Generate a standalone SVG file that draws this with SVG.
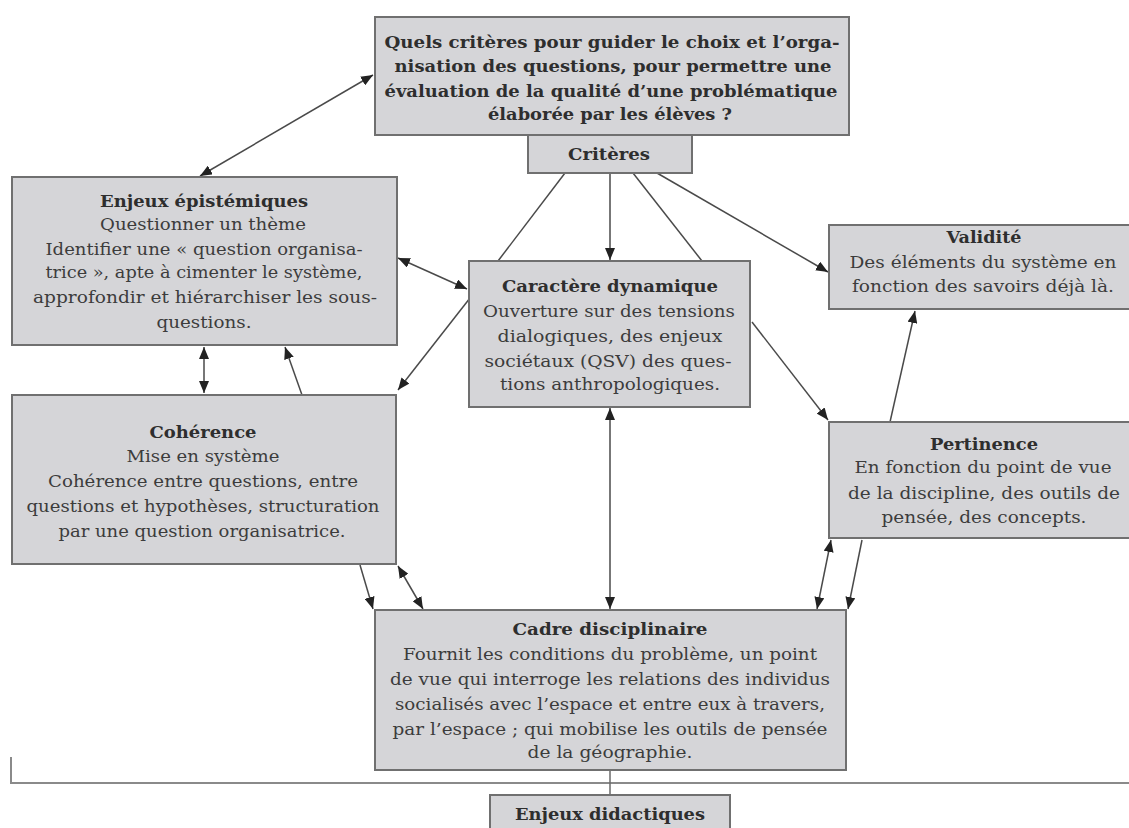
<svg xmlns="http://www.w3.org/2000/svg" width="1129" height="828" viewBox="0 0 1129 828">
<style>
.box{fill:#d5d5d8;stroke:#707070;stroke-width:2}
.t{font-family:"DejaVu Serif","Liberation Serif",serif;font-size:16.5px;fill:#3c3c3c;text-anchor:middle}
.b{font-weight:bold;fill:#2e2e2e}
.c{stroke:#4a4a4a;stroke-width:1.5;fill:none}
.a{marker-end:url(#ah)}
.d{marker-start:url(#ah);marker-end:url(#ah)}
</style>
<defs>
<marker id="ah" viewBox="0 0 12 10" refX="12" refY="5" markerWidth="12" markerHeight="10" markerUnits="userSpaceOnUse" orient="auto-start-reverse">
<path d="M0,0 L12,5 L0,10 Z" fill="#222"/>
</marker>
</defs>
<rect width="1129" height="828" fill="#ffffff"/>
<g id="connectors">
<line class="c d" x1="200" y1="176" x2="373" y2="75"/>
<line class="c" x1="565" y1="173" x2="498" y2="261"/>
<line class="c a" x1="610" y1="173" x2="610" y2="260"/>
<line class="c" x1="633" y1="173" x2="702" y2="261"/>
<line class="c a" x1="657" y1="173" x2="828" y2="272"/>
<line class="c d" x1="398" y1="258" x2="467" y2="289"/>
<line class="c a" x1="470" y1="298" x2="398" y2="390"/>
<line class="c d" x1="204" y1="347" x2="204" y2="393"/>
<line class="c a" x1="302" y1="395" x2="285" y2="347"/>
<line class="c d" x1="610" y1="408" x2="610" y2="609"/>
<line class="c a" x1="752" y1="322" x2="828" y2="420"/>
<line class="c a" x1="890" y1="422" x2="915" y2="311"/>
<line class="c a" x1="360" y1="565" x2="373" y2="609"/>
<line class="c d" x1="398" y1="566" x2="423" y2="609"/>
<line class="c d" x1="831" y1="540" x2="817" y2="609"/>
<line class="c a" x1="862" y1="540" x2="848" y2="609"/>
<polyline points="11,757 11,783 1129,783" fill="none" stroke="#8a8a8a" stroke-width="2"/>
<line x1="610" y1="770" x2="610" y2="795" stroke="#6a6a6a" stroke-width="1.5"/>
</g>
<g id="question">
<rect class="box" x="375" y="17" width="474" height="118"/>
<text class="t b" x="612" y="48" textLength="455" lengthAdjust="spacingAndGlyphs">Quels critères pour guider le choix et l’orga-</text>
<text class="t b" x="613" y="72" textLength="437" lengthAdjust="spacingAndGlyphs">nisation des questions, pour permettre une</text>
<text class="t b" x="611" y="97" textLength="453" lengthAdjust="spacingAndGlyphs">évaluation de la qualité d’une problématique</text>
<text class="t b" x="610" y="120" textLength="244" lengthAdjust="spacingAndGlyphs">élaborée par les élèves ?</text>
</g>
<g id="criteres">
<rect class="box" x="528" y="135" width="164" height="38"/>
<text class="t b" x="609" y="160" textLength="82" lengthAdjust="spacingAndGlyphs">Critères</text>
</g>
<g id="enjeux-epistemiques">
<rect class="box" x="12" y="177" width="385" height="168"/>
<text class="t b" x="204" y="207" textLength="208" lengthAdjust="spacingAndGlyphs">Enjeux épistémiques</text>
<text class="t" x="203" y="230" textLength="206" lengthAdjust="spacingAndGlyphs">Questionner un thème</text>
<text class="t" x="204" y="255" textLength="317" lengthAdjust="spacingAndGlyphs">Identifier une « question organisa-</text>
<text class="t" x="204" y="278" textLength="317" lengthAdjust="spacingAndGlyphs">trice », apte à cimenter le système,</text>
<text class="t" x="205" y="303" textLength="344" lengthAdjust="spacingAndGlyphs">approfondir et hiérarchiser les sous-</text>
<text class="t" x="204" y="328" textLength="95" lengthAdjust="spacingAndGlyphs">questions.</text>
</g>
<g id="caractere-dynamique">
<rect class="box" x="469" y="261" width="281" height="146"/>
<text class="t b" x="610" y="292" textLength="216" lengthAdjust="spacingAndGlyphs">Caractère dynamique</text>
<text class="t" x="609" y="317" textLength="252" lengthAdjust="spacingAndGlyphs">Ouverture sur des tensions</text>
<text class="t" x="610" y="342" textLength="225" lengthAdjust="spacingAndGlyphs">dialogiques, des enjeux</text>
<text class="t" x="608" y="367" textLength="247" lengthAdjust="spacingAndGlyphs">sociétaux (QSV) des ques-</text>
<text class="t" x="610" y="390" textLength="220" lengthAdjust="spacingAndGlyphs">tions anthropologiques.</text>
</g>
<g id="validite">
<rect class="box" x="829" y="225" width="320" height="84"/>
<text class="t b" x="984" y="243" textLength="75" lengthAdjust="spacingAndGlyphs">Validité</text>
<text class="t" x="983" y="268" textLength="267" lengthAdjust="spacingAndGlyphs">Des éléments du système en</text>
<text class="t" x="983" y="292" textLength="262" lengthAdjust="spacingAndGlyphs">fonction des savoirs déjà là.</text>
</g>
<g id="pertinence">
<rect class="box" x="829" y="422" width="320" height="116"/>
<text class="t b" x="984" y="450" textLength="108" lengthAdjust="spacingAndGlyphs">Pertinence</text>
<text class="t" x="983" y="473" textLength="257" lengthAdjust="spacingAndGlyphs">En fonction du point de vue</text>
<text class="t" x="984" y="499" textLength="272" lengthAdjust="spacingAndGlyphs">de la discipline, des outils de</text>
<text class="t" x="984" y="523" textLength="205" lengthAdjust="spacingAndGlyphs">pensée, des concepts.</text>
</g>
<g id="coherence">
<rect class="box" x="12" y="395" width="384" height="169"/>
<text class="t b" x="203" y="438" textLength="107" lengthAdjust="spacingAndGlyphs">Cohérence</text>
<text class="t" x="203" y="462" textLength="153" lengthAdjust="spacingAndGlyphs">Mise en système</text>
<text class="t" x="203" y="487" textLength="310" lengthAdjust="spacingAndGlyphs">Cohérence entre questions, entre</text>
<text class="t" x="203" y="512" textLength="353" lengthAdjust="spacingAndGlyphs">questions et hypothèses, structuration</text>
<text class="t" x="202" y="537" textLength="287" lengthAdjust="spacingAndGlyphs">par une question organisatrice.</text>
</g>
<g id="cadre-disciplinaire">
<rect class="box" x="375" y="610" width="471" height="160"/>
<text class="t b" x="610" y="635" textLength="195" lengthAdjust="spacingAndGlyphs">Cadre disciplinaire</text>
<text class="t" x="610" y="660" textLength="414" lengthAdjust="spacingAndGlyphs">Fournit les conditions du problème, un point</text>
<text class="t" x="610" y="685" textLength="440" lengthAdjust="spacingAndGlyphs">de vue qui interroge les relations des individus</text>
<text class="t" x="610" y="710" textLength="430" lengthAdjust="spacingAndGlyphs">socialisés avec l’espace et entre eux à travers,</text>
<text class="t" x="610" y="735" textLength="435" lengthAdjust="spacingAndGlyphs">par l’espace ; qui mobilise les outils de pensée</text>
<text class="t" x="610" y="758" textLength="165" lengthAdjust="spacingAndGlyphs">de la géographie.</text>
</g>
<g id="enjeux-didactiques">
<rect class="box" x="490" y="795" width="240" height="40"/>
<text class="t b" x="610" y="820" textLength="190" lengthAdjust="spacingAndGlyphs">Enjeux didactiques</text>
</g>
</svg>
